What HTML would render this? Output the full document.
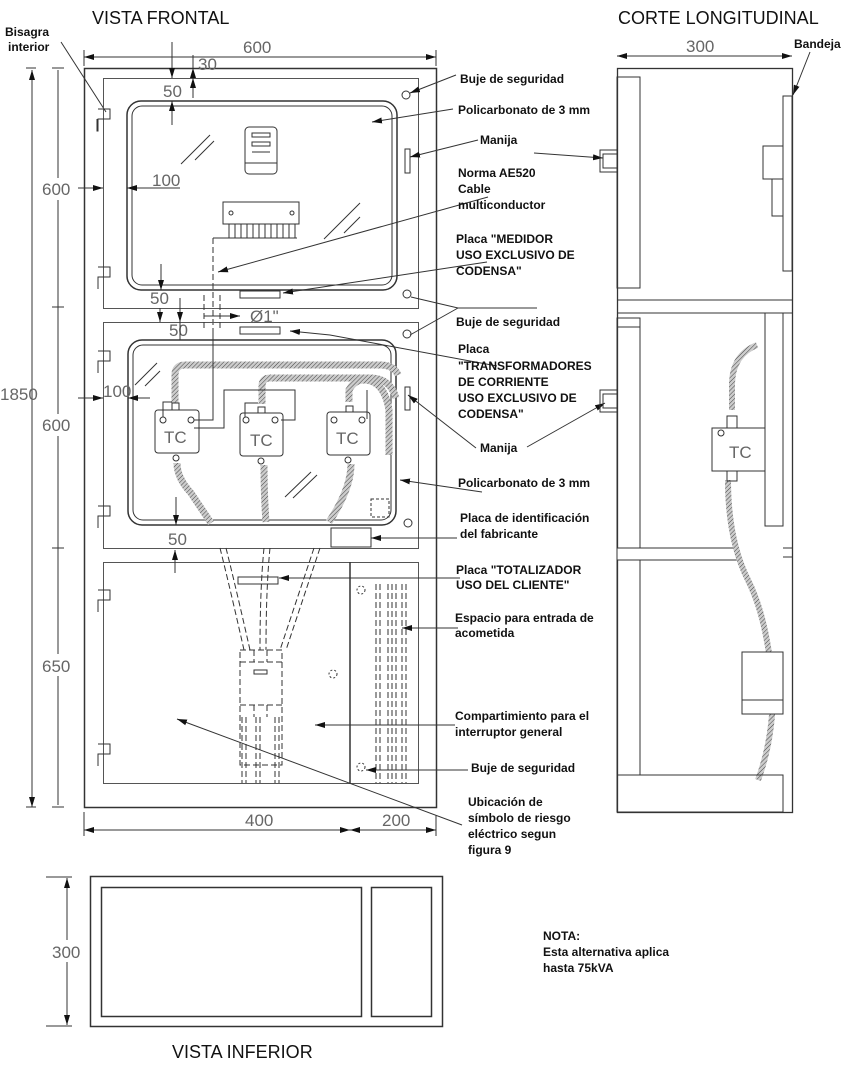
<!DOCTYPE html>
<html><head><meta charset="utf-8"><style>
html,body{margin:0;padding:0;background:#fff;}
svg{display:block;}
.t{font-family:"Liberation Sans",Arial,sans-serif;font-weight:bold;font-size:12px;fill:#111;stroke:none;}
.d{font-family:"Liberation Sans",Arial,sans-serif;font-size:17px;fill:#666;stroke:none;}
.h{font-family:"Liberation Sans",Arial,sans-serif;font-size:18px;fill:#111;stroke:none;}
</style></head><body>
<svg width="855" height="1072" viewBox="0 0 855 1072" xmlns="http://www.w3.org/2000/svg">
<defs>
<marker id="a" viewBox="0 0 10 6" refX="10" refY="3" markerWidth="10" markerHeight="6" orient="auto" markerUnits="userSpaceOnUse"><path d="M0,0L10,3L0,6z" fill="#111" stroke="none"/></marker>
<marker id="s" viewBox="0 0 10 6" refX="0" refY="3" markerWidth="10" markerHeight="6" orient="auto" markerUnits="userSpaceOnUse"><path d="M10,0L0,3L10,6z" fill="#111" stroke="none"/></marker>
<pattern id="hp" width="3" height="3" patternUnits="userSpaceOnUse" patternTransform="rotate(45)"><rect width="3" height="3" fill="#ccc"/><line x1="0" y1="0" x2="0" y2="3" stroke="#444" stroke-width="1"/></pattern>
</defs>
<g fill="none" stroke="#333" stroke-width="1">
<text class="h" x="92" y="24">VISTA FRONTAL</text>
<text class="h" x="618" y="24">CORTE LONGITUDINAL</text>
<text class="h" x="172" y="1058">VISTA INFERIOR</text>
<text class="t" x="5" y="36">Bisagra</text><text class="t" x="8" y="51">interior</text>
<line x1="61" y1="42" x2="106" y2="112" stroke="#333"/>

<rect x="84.5" y="68.5" width="352" height="739" stroke-width="1.5"/>
<rect x="103.5" y="78.5" width="315" height="230" stroke="#555"/>
<rect x="127" y="101" width="270" height="189" rx="14" stroke-width="1.5"/>
<rect x="132" y="106" width="260" height="179" rx="10"/>
<rect x="245" y="127" width="32" height="47" rx="4"/>
<rect x="252" y="133" width="18" height="4"/><rect x="252" y="142" width="18" height="4"/><line x1="252" y1="152" x2="270" y2="152"/><line x1="245" y1="163" x2="277" y2="163"/>
<line x1="181" y1="164" x2="210" y2="135"/><line x1="195" y1="160" x2="214" y2="141"/>
<line x1="324" y1="239" x2="360" y2="203"/><line x1="344" y1="233" x2="360" y2="217"/>
<rect x="223" y="202" width="76" height="22"/>
<circle cx="231" cy="213" r="2"/><circle cx="292" cy="213" r="2"/>
<path d="M229,224v14M235,224v14M241,224v14M247,224v14M253,224v14M259,224v14M265,224v14M271,224v14M277,224v14M283,224v14M289,224v14M295,224v14"/>
<path d="M213,238H297"/>
<line x1="213" y1="238" x2="213" y2="330" stroke-dasharray="6,3"/>
<circle cx="406" cy="95" r="4"/><circle cx="407" cy="294" r="4"/>
<rect x="405" y="149" width="5" height="24"/>
<rect x="240" y="291" width="40" height="7"/>
<path d="M98,109h12v10h-12v12h-1v-12"/><path d="M98,267h12v10h-12v12"/>
<rect x="103.5" y="322.5" width="315" height="226" stroke="#555"/>
<rect x="128" y="340" width="268" height="185" rx="14" stroke-width="1.5"/>
<rect x="133" y="345" width="258" height="175" rx="10"/>
<rect x="240" y="327" width="40" height="7"/>
<circle cx="407" cy="334" r="4"/><circle cx="408" cy="523" r="4"/>
<rect x="405" y="387" width="5" height="23"/>
<rect x="331" y="528" width="40" height="19"/>
<rect x="371" y="499" width="18" height="18" stroke-dasharray="3,2"/>
<path d="M98,351h12v10h-12v12"/><path d="M98,506h12v10h-12v12"/>
<line x1="135" y1="385" x2="157" y2="363"/><line x1="145" y1="386" x2="160" y2="371"/>
<line x1="285" y1="497" x2="311" y2="472"/><line x1="293" y1="498" x2="317" y2="475"/>
<g stroke="url(#hp)" stroke-width="7" stroke-linecap="butt">
<path d="M175,404V375q0,-10 10,-10H380q14,0 18,10"/>
<path d="M262,404V386q0,-8 8,-8H370q20,0 26,20"/>
<path d="M349,402V390q5,-10 15,-10q20,0 25,30V455"/>
<path d="M177,463q0,15 14,30l20,30"/>
<path d="M264,465q0,30 2,57"/>
<path d="M351,464q0,25 -22,58"/>
</g>
<g fill="#fff">
<rect x="155" y="410" width="44" height="43" rx="3"/><rect x="240" y="413" width="43" height="43" rx="3"/><rect x="327" y="412" width="43" height="43" rx="3"/>
<rect x="172" y="403" width="7" height="7"/><rect x="258" y="407" width="7" height="6"/><rect x="346" y="406" width="7" height="6"/>
<circle cx="176" cy="458" r="3"/><circle cx="261" cy="461" r="3"/><circle cx="348" cy="460" r="3"/>
<circle cx="163" cy="420" r="3"/><circle cx="191" cy="420" r="3"/><circle cx="246" cy="420" r="3"/><circle cx="275" cy="420" r="3"/><circle cx="334" cy="420" r="3"/><circle cx="362" cy="420" r="3"/>
</g>
<text class="d" x="164" y="443" font-size="18">TC</text>
<text class="d" x="250" y="446" font-size="18">TC</text>
<text class="d" x="336" y="444" font-size="18">TC</text>
<path d="M163,417V402h9M194,420h19V330M194,428H224V390H295V420H281M245,417V403h13M367,419V390"/>
<rect x="103.5" y="562.5" width="315" height="221" stroke="#555"/>
<line x1="350" y1="562" x2="350" y2="783" stroke-width="1.5"/>
<path d="M98,590h12v10h-12v12"/><path d="M98,744h12v10h-12v12"/>
<rect x="238" y="577" width="40" height="7"/>
<circle cx="361" cy="590" r="4" stroke-dasharray="2,2"/><circle cx="361" cy="767" r="4" stroke-dasharray="2,2"/><circle cx="333" cy="674" r="4" stroke-dasharray="2,2"/>
<g stroke-dasharray="6,3">
<path d="M376,584V783M380,584V783M388,584V783M392,584V783M396,584V783M402,584V783M406,584V783"/>
<path d="M220,548q10,40 24,102M226,548q10,40 24,102M264,548q-4,40 -4,102M270,548q-4,40 -4,102M314,548q-20,60 -34,102M320,548q-20,60 -34,102"/>
<path d="M240,650h42v115h-42zM240,662h42M240,705h42M254,650v12M267,650v12M254,705v12M267,705v12"/>
<path d="M242,717V783M246,717V783M256,717V783M260,717V783M275,717V783M279,717V783"/>
<path d="M204,295v35M220,295v35"/>
</g>
<rect x="254" y="670" width="13" height="4"/>
<line x1="204" y1="316" x2="240" y2="316" marker-end="url(#a)"/>
<text class="d" x="250" y="322" font-size="13">Ø1"</text>

<line x1="84" y1="57" x2="436" y2="57" marker-start="url(#s)" marker-end="url(#a)"/>
<line x1="84" y1="50" x2="84" y2="66"/><line x1="436" y1="50" x2="436" y2="66"/>
<text class="d" x="243" y="53">600</text>
<line x1="172" y1="42" x2="172" y2="78" marker-end="url(#a)"/>
<line x1="193" y1="55" x2="193" y2="68" marker-end="url(#s)"/><line x1="193" y1="78" x2="193" y2="98" marker-start="url(#s)"/>
<text class="d" x="198" y="70" font-size="14">30</text>
<text class="d" x="163" y="97" font-size="15">50</text>
<line x1="172" y1="101" x2="172" y2="125" marker-start="url(#s)"/>
<line x1="78" y1="188" x2="103" y2="188" marker-end="url(#a)"/><line x1="127" y1="188" x2="180" y2="188" marker-start="url(#s)"/>
<text class="d" x="152" y="186" font-size="17">100</text>
<line x1="161" y1="264" x2="161" y2="290" marker-end="url(#a)"/>
<text class="d" x="150" y="304" font-size="16">50</text>
<line x1="160" y1="308" x2="160" y2="322" marker-end="url(#a)"/><line x1="180" y1="298" x2="180" y2="322" marker-end="url(#a)"/>
<text class="d" x="169" y="336" font-size="16">50</text>
<line x1="180" y1="322" x2="180" y2="340"/>
<line x1="78" y1="398" x2="103" y2="398" marker-end="url(#a)"/><line x1="128" y1="398" x2="150" y2="398" marker-start="url(#s)"/>
<text class="d" x="103" y="397" font-size="16">100</text>
<line x1="176" y1="497" x2="176" y2="525" marker-end="url(#a)"/>
<text class="d" x="168" y="545" font-size="16">50</text>
<line x1="175" y1="550" x2="175" y2="573" marker-start="url(#s)"/>
<line x1="32" y1="70" x2="32" y2="807" marker-start="url(#s)" marker-end="url(#a)"/>
<line x1="26" y1="68" x2="36" y2="68"/><line x1="26" y1="807" x2="36" y2="807"/>
<rect x="0" y="382" width="30" height="22" fill="#fff" stroke="none"/>
<text class="d" x="0" y="400">1850</text>
<line x1="58" y1="70" x2="58" y2="805"/>
<line x1="52" y1="68" x2="64" y2="68"/><line x1="52" y1="307" x2="64" y2="307"/><line x1="52" y1="548" x2="64" y2="548"/><line x1="52" y1="807" x2="64" y2="807"/>
<rect x="38" y="178" width="40" height="22" fill="#fff" stroke="none"/>
<rect x="38" y="414" width="40" height="22" fill="#fff" stroke="none"/>
<rect x="38" y="654" width="40" height="22" fill="#fff" stroke="none"/>
<text class="d" x="42" y="195">600</text>
<text class="d" x="42" y="431">600</text>
<text class="d" x="42" y="672">650</text>
<line x1="84" y1="830" x2="350" y2="830" marker-start="url(#s)" marker-end="url(#a)"/>
<line x1="350" y1="830" x2="436" y2="830" marker-start="url(#s)" marker-end="url(#a)"/>
<line x1="84" y1="812" x2="84" y2="836"/><line x1="436" y1="815" x2="436" y2="836"/>
<text class="d" x="245" y="826">400</text><text class="d" x="382" y="826">200</text>

<path d="M456,75L410,93" marker-end="url(#a)"/>
<path d="M453,109L372,122" marker-end="url(#a)"/>
<path d="M478,140L410,157" marker-end="url(#a)"/>
<path d="M534,153L603,158" marker-end="url(#a)"/>
<path d="M488,197L218,272" marker-end="url(#a)"/>
<path d="M487,262L283,293" marker-end="url(#a)"/>
<path d="M537,308H458L411,297M458,308L410,335" />
<path d="M497,366L330,335L290,331" marker-end="url(#a)"/>
<path d="M476,448L408,395" marker-end="url(#a)"/>
<path d="M527,447L605,403" marker-end="url(#a)"/>
<path d="M482,492L400,480" marker-end="url(#a)"/>
<path d="M457,538H371" marker-end="url(#a)"/>
<path d="M460,578H279" marker-end="url(#a)"/>
<path d="M458,628H402" marker-end="url(#a)"/>
<path d="M455,725H315" marker-end="url(#a)"/>
<path d="M468,770H366" marker-end="url(#a)"/>
<path d="M462,825L177,719" marker-end="url(#a)"/>

<rect x="617.5" y="68.5" width="175" height="744" stroke-width="1.3"/>
<line x1="617" y1="300" x2="792" y2="300"/><line x1="617" y1="313" x2="792" y2="313"/>
<line x1="617" y1="56" x2="792" y2="56" marker-start="url(#s)" marker-end="url(#a)"/>
<text class="d" x="686" y="52">300</text>
<text class="t" x="794" y="48">Bandeja</text>
<line x1="810" y1="52" x2="793" y2="95" marker-end="url(#a)"/>
<rect x="617" y="77" width="23" height="211"/>
<rect x="600" y="150" width="17" height="22"/><rect x="603" y="154" width="14" height="14"/>
<rect x="783" y="96" width="9" height="175"/>
<rect x="763" y="146" width="20" height="33"/><rect x="772" y="179" width="11" height="37"/>
<rect x="617" y="318" width="23" height="457"/><line x1="617" y1="327" x2="640" y2="327"/>
<rect x="600" y="390" width="17" height="22"/><rect x="603" y="394" width="14" height="14"/>
<rect x="617" y="548" width="120" height="12" fill="#fff"/>
<rect x="765" y="313" width="18" height="213"/>
<line x1="783" y1="548" x2="792" y2="548"/><line x1="783" y1="557" x2="792" y2="557"/>
<path d="M757,345q-25,10 -25,40v25M728,480q0,60 20,100q20,40 25,110q0,50 -15,90" stroke="url(#hp)" stroke-width="6"/>
<rect x="712" y="428" width="53" height="43" fill="#fff"/>
<text class="d" x="729" y="458" font-size="18">TC</text>
<circle cx="721" cy="433" r="3"/>
<rect x="727" y="416" width="10" height="12"/><rect x="727" y="471" width="10" height="10"/>
<rect x="742" y="652" width="41" height="62" fill="#fff"/><line x1="742" y1="700" x2="783" y2="700"/>
<rect x="617" y="775" width="166" height="37" fill="none"/>

<rect x="90.5" y="876.5" width="352" height="150" stroke-width="1.5"/>
<rect x="101.5" y="887.5" width="260" height="129" stroke-width="1.5"/>
<rect x="371.5" y="887.5" width="60" height="129" stroke-width="1.5"/>
<line x1="67" y1="878" x2="67" y2="1025" marker-start="url(#s)" marker-end="url(#a)"/>
<line x1="46" y1="877" x2="72" y2="877"/><line x1="46" y1="1026" x2="72" y2="1026"/>
<rect x="50" y="940" width="34" height="22" fill="#fff" stroke="none"/>
<text class="d" x="52" y="958">300</text>
</g>
<g class="t">
<text x="460" y="83">Buje de seguridad</text>
<text x="458" y="114">Policarbonato de 3 mm</text>
<text x="480" y="144">Manija</text>
<text x="458" y="177">Norma AE520</text><text x="458" y="193">Cable</text><text x="458" y="209">multiconductor</text>
<text x="456" y="243">Placa "MEDIDOR</text><text x="456" y="259">USO EXCLUSIVO DE</text><text x="456" y="275">CODENSA"</text>
<text x="456" y="326">Buje de seguridad</text>
<text x="458" y="353">Placa</text><text x="458" y="370">"TRANSFORMADORES</text><text x="458" y="386">DE CORRIENTE</text><text x="458" y="402">USO EXCLUSIVO DE</text><text x="458" y="418">CODENSA"</text>
<text x="480" y="452">Manija</text>
<text x="458" y="487">Policarbonato de 3 mm</text>
<text x="460" y="522">Placa de identificación</text><text x="460" y="538">del fabricante</text>
<text x="456" y="574">Placa "TOTALIZADOR</text><text x="456" y="589">USO DEL CLIENTE"</text>
<text x="455" y="622">Espacio para entrada de</text><text x="455" y="637">acometida</text>
<text x="455" y="720">Compartimiento para el</text><text x="455" y="736">interruptor general</text>
<text x="471" y="772">Buje de seguridad</text>
<text x="468" y="806">Ubicación de</text><text x="468" y="822">símbolo de riesgo</text><text x="468" y="838">eléctrico segun</text><text x="468" y="854">figura 9</text>
<text x="543" y="940">NOTA:</text><text x="543" y="956">Esta alternativa aplica</text><text x="543" y="972">hasta 75kVA</text>
</g>
</svg>
</body></html>
